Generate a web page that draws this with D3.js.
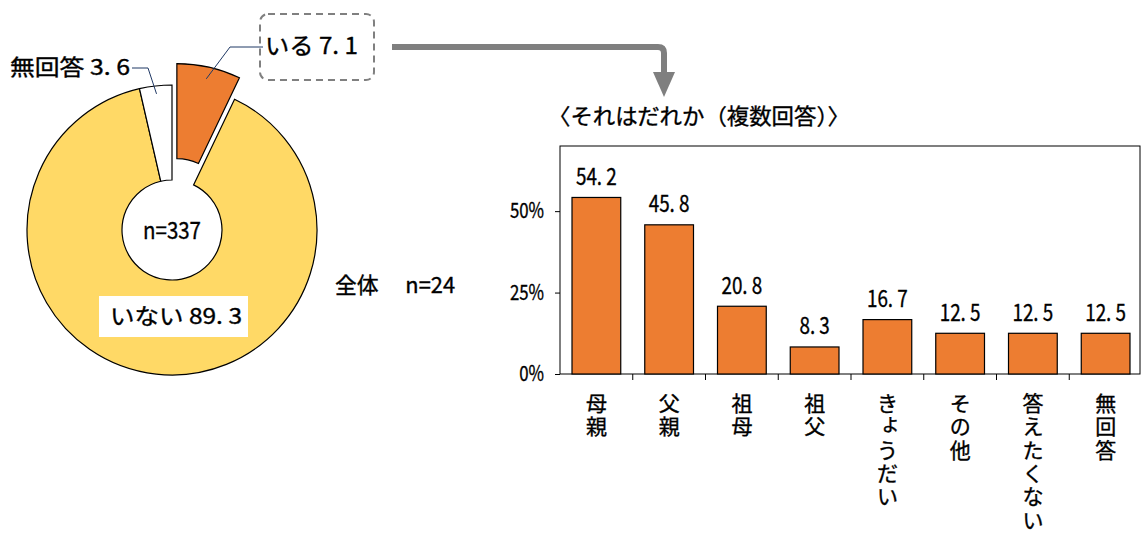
<!DOCTYPE html>
<html>
<head>
<meta charset="utf-8">
<script src="https://cdn.jsdelivr.net/npm/d3@7"></script>
<style>
  body { margin: 0; background: #fff; }
  text { font-family: "Noto Sans CJK JP", sans-serif; fill: #000; stroke: #000; stroke-width: 0.35px; }
</style>
</head>
<body>
<svg id="chart" width="1143" height="533"></svg>
<script>
// pie data
var pieLabels = ["いる", "いない", "無回答"];
var pieValues = [7.1, 89.3, 3.6];
var pieColors = ["#ED7D31", "#FFD966", "#FFFFFF"];
var pieTotal = "n=337";
var subTitle = "全体　 n=24";

// bar data
var barTitle = "〈それはだれか（複数回答）〉";
var categories = ["母親", "父親", "祖母", "祖父", "きょうだい", "その他", "答えたくない", "無回答"];
var barValues = [54.2, 45.8, 20.8, 8.3, 16.7, 12.5, 12.5, 12.5];
var yTicks = [0, 25, 50];

var svg = d3.select("#chart");

function fmt(v) { return v.toFixed(1).replace(".", ". "); }

// narrow a text to a share of its natural width (reference font is condensed)
function squeeze(sel, k) {
    sel.each(function () {
        var w = this.getComputedTextLength();
        d3.select(this).attr("textLength", w * k).attr("lengthAdjust", "spacingAndGlyphs");
    });
}
function fitTo(sel, w) {
    sel.attr("textLength", w).attr("lengthAdjust", "spacingAndGlyphs");
}

// ---------- donut ----------
var cx = 172, cy = 230, rOut = 145, rIn = 50;
var pie = d3.pie().sort(null).value(function (d) { return d; });
var arcs = pie(pieValues);
var arc = d3.arc().innerRadius(rIn).outerRadius(rOut);

function explode(d, i) {
    if (i !== 0) return [0, 0];
    var a = (d.startAngle + d.endAngle) / 2;
    return [22 * Math.sin(a), -22 * Math.cos(a)];
}

var pg = svg.append("g").attr("transform", "translate(" + cx + "," + cy + ")");

pg.selectAll("path.slice")
    .data(arcs).enter()
    .append("path")
    .attr("class", "slice")
    .attr("transform", function (d, i) { var o = explode(d, i); return "translate(" + o[0] + "," + o[1] + ")"; })
    .attr("d", arc)
    .style("fill", function (d, i) { return pieColors[i]; })
    .style("stroke", "#000")
    .style("stroke-width", 1.2);

pg.append("text")
    .attr("x", -29).attr("y", 2)
    .attr("dominant-baseline", "middle")
    .style("font-size", "24px")
    .text(pieTotal)
    .call(fitTo, 58);

// leader line helpers
function pointAt(d, r, o) {
    var a = (d.startAngle + d.endAngle) / 2;
    return [o[0] + r * Math.sin(a), o[1] - r * Math.cos(a)];
}

// いる label
var dA = arcs[0], oA = explode(dA, 0);
var pA = pointAt(dA, 133, oA);
var labA = [263 - cx, 47 - cy];
pg.append("polyline")
    .attr("points", [pA, [230 - cx, labA[1]], labA].map(function (p) { return p.join(","); }).join(" "))
    .style("fill", "none").style("stroke", "#1F3864").style("stroke-width", 1);

svg.append("rect")
    .attr("x", 260).attr("y", 14).attr("width", 114).attr("height", 66)
    .attr("rx", 8)
    .style("fill", "none").style("stroke", "#808080")
    .style("stroke-width", 2).style("stroke-dasharray", "7,5");

svg.append("text")
    .attr("x", 265).attr("y", 48)
    .attr("dominant-baseline", "middle")
    .style("font-size", "23px")
    .text(pieLabels[0] + " " + fmt(pieValues[0]))
    .call(fitTo, 93);

// 無回答 label
var dC = arcs[2];
var pC = pointAt(dC, 137, [0, 0]);
pg.append("polyline")
    .attr("points", [pC, [148 - cx, 68 - cy], [132 - cx, 68 - cy]].map(function (p) { return p.join(","); }).join(" "))
    .style("fill", "none").style("stroke", "#1F3864").style("stroke-width", 1);

svg.append("text")
    .attr("x", 10).attr("y", 69)
    .attr("dominant-baseline", "middle")
    .style("font-size", "22px")
    .text(pieLabels[2] + " " + fmt(pieValues[2]))
    .call(fitTo, 120);

// いない label
svg.append("rect")
    .attr("x", 99).attr("y", 296).attr("width", 149).attr("height", 41)
    .style("fill", "#fff");
svg.append("text")
    .attr("x", 110).attr("y", 318)
    .attr("dominant-baseline", "middle")
    .style("font-size", "22px")
    .text(pieLabels[1] + " " + fmt(pieValues[1]))
    .call(fitTo, 132);

svg.append("text")
    .attr("x", 335).attr("y", 287)
    .attr("dominant-baseline", "middle")
    .style("font-size", "22px")
    .text(subTitle)
    .call(fitTo, 120);

// ---------- arrow ----------
var arrow = d3.path();
arrow.moveTo(392, 47);
arrow.lineTo(658, 47);
arrow.quadraticCurveTo(664, 47, 664, 53);
arrow.lineTo(664, 74);
svg.append("path")
    .attr("d", arrow.toString())
    .style("fill", "none").style("stroke", "#7F7F7F").style("stroke-width", 6);
svg.append("path")
    .attr("d", "M653,72 L675,72 L664,97 Z")
    .style("fill", "#7F7F7F");

// ---------- bar chart ----------
var plotLeft = 560, plotRight = 1142, plotTop = 146, plotBottom = 374;

svg.append("text")
    .attr("x", 548).attr("y", 118)
    .attr("dominant-baseline", "middle")
    .style("font-size", "22px")
    .text(barTitle)
    .call(fitTo, 302);

var x = d3.scaleBand().domain(categories).range([plotLeft, plotRight]).paddingInner(0.33).paddingOuter(0.165);
var y = d3.scaleLinear().domain([0, 70]).range([plotBottom, plotTop]);

svg.append("rect")
    .attr("x", plotLeft).attr("y", plotTop)
    .attr("width", 580).attr("height", plotBottom - plotTop)
    .style("fill", "none").style("stroke", "#000").style("stroke-width", 1);

svg.selectAll("rect.bar")
    .data(barValues).enter()
    .append("rect")
    .attr("class", "bar")
    .attr("x", function (d, i) { return x(categories[i]); })
    .attr("y", function (d) { return y(d); })
    .attr("width", x.bandwidth())
    .attr("height", function (d) { return y(0) - y(d); })
    .style("fill", "#ED7D31")
    .style("stroke", "#000")
    .style("stroke-width", 1.2);

svg.selectAll("text.val")
    .data(barValues).enter()
    .append("text")
    .attr("class", "val")
    .attr("x", function (d, i) { return x(categories[i]) + x.bandwidth() / 2; })
    .attr("y", function (d) { return y(d) - 19; })
    .attr("text-anchor", "middle")
    .attr("dominant-baseline", "middle")
    .style("font-size", "23px")
    .text(fmt)
    .call(squeeze, 0.82);

// y axis
var yAxis = svg.append("g")
    .attr("transform", "translate(" + plotLeft + ",0)")
    .call(d3.axisLeft(y).tickValues(yTicks).tickSize(5).tickFormat(function (d) { return d + "%"; }));
yAxis.select(".domain").remove();
yAxis.selectAll("text")
    .style("font-size", "21px")
    .style("font-family", "'Noto Sans CJK JP', sans-serif")
    .attr("x", -16)
    .call(squeeze, 0.8);

// x ticks at band boundaries
var step = x.step();
var bounds = categories.slice(1).map(function (c) { return x(c) - (step - x.bandwidth()) / 2; });
svg.selectAll("line.xt")
    .data(bounds).enter()
    .append("line")
    .attr("x1", function (d) { return d; }).attr("x2", function (d) { return d; })
    .attr("y1", plotBottom).attr("y2", plotBottom + 6)
    .style("stroke", "#000");

// vertical category labels
categories.forEach(function (c, i) {
    var t = svg.append("text")
        .attr("text-anchor", "middle")
        .style("font-size", "21px");
    c.split("").forEach(function (ch, j) {
        var small = "ょゃゅっ".indexOf(ch) >= 0;
        t.append("tspan")
            .attr("x", x(c) + x.bandwidth() / 2 + (small ? 3 : 0))
            .attr("y", 411 + j * 23.3 + (small ? -4 : 0))
            .text(ch);
    });
});
</script>
</body>
</html>
